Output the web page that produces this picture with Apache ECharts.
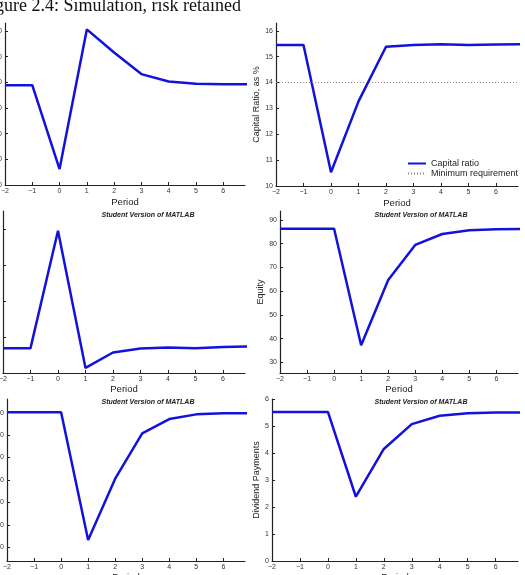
<!DOCTYPE html>
<html>
<head>
<meta charset="utf-8">
<script src="https://cdn.jsdelivr.net/npm/echarts@6/dist/echarts.min.js"></script>
<style>
  html, body { margin: 0; padding: 0; background: #fff; }
  #fig { width: 525px; height: 575px; }
</style>
</head>
<body>
<div id="fig"></div>
<script>
// periods on the x axis (last point sits past the visible 6.8 edge)
var periods = [-2, -1, 0, 1, 2, 3, 4, 5, 6, 7];
var xTicks = [-2, -1, 0, 1, 2, 3, 4, 5, 6];

// series
var topLeftValues = [38.9, 38.9, 6.2, 60.6, 51.6, 43.2, 40.3, 39.4, 39.2, 39.2];
var capitalRatio = [15.45, 15.45, 10.53, 13.27, 15.38, 15.45, 15.48, 15.45, 15.47, 15.48];
var minRequirement = [14, 14, 14, 14, 14, 14, 14, 14, 14, 14];
var midLeftValues = [0.69, 0.69, 3.95, 0.14, 0.57, 0.68, 0.71, 0.69, 0.72, 0.74];
var equity = [86.3, 86.3, 86.3, 37.2, 64.7, 79.5, 84.1, 85.7, 86.1, 86.2];
var bottomLeftValues = [160.3, 160.3, 160.3, 46.5, 101.2, 141.5, 154.3, 158.5, 159.4, 159.4];
var dividends = [5.52, 5.52, 5.52, 2.38, 4.15, 5.07, 5.38, 5.47, 5.5, 5.5];

// y tick labels
var topLeftTicks = [0, 10, 20, 30, 40, 50, 60];
var capitalTicks = [10, 11, 12, 13, 14, 15, 16];
var midLeftTicks = [0, 1, 2, 3, 4];
var equityTicks = [30, 40, 50, 60, 70, 80, 90];
var bottomLeftTicks = [40, 60, 80, 100, 120, 140, 160];
var dividendTicks = [0, 1, 2, 3, 4, 5, 6];

function pairs(xs, ys) {
  var out = [];
  for (var i = 0; i < xs.length; i++) out.push([xs[i], ys[i]]);
  return out;
}

function minus(v) {
  return String(v).replace('-', '\u2212');
}

var axisColor = '#222';
var labelColor = '#333';
var fontFam = '"Liberation Sans", Arial, sans-serif';
var blue = '#1212dc';

// panel layout: grid box, y range, ticks, y name
var panels = [
  { left: 5, top: 23, width: 240, height: 162, ymin: 0, ymax: 63.1, ticks: topLeftTicks, name: '', gap: 10, xgap: 12 },
  { left: 276, top: 23, width: 242, height: 163, ymin: 10, ymax: 16.3, ticks: capitalTicks, name: 'Capital Ratio, as %', gap: 11, xgap: 12 },
  { left: 3, top: 211, width: 242, height: 162, ymin: 0, ymax: 4.5, ticks: midLeftTicks, name: '', gap: 10, xgap: 11 },
  { left: 280, top: 211, width: 238, height: 162, ymin: 25.5, ymax: 93.8, ticks: equityTicks, name: 'Equity', gap: 15, xgap: 11 },
  { left: 7, top: 399, width: 238, height: 162, ymin: 27.8, ymax: 172.2, ticks: bottomLeftTicks, name: '', gap: 10, xgap: 11 },
  { left: 272, top: 399, width: 246, height: 162, ymin: 0, ymax: 6, ticks: dividendTicks, name: 'Dividend Payments', gap: 7, xgap: 11 }
];

var grids = [], xAxes = [], yAxes = [];
for (var i = 0; i < panels.length; i++) {
  var p = panels[i];
  grids.push({
    left: p.left, top: p.top, width: p.width, height: p.height,
    show: false, containLabel: false, outerBoundsMode: 'none'
  });
  xAxes.push({
    type: 'value', gridIndex: i, min: -2, max: 6.8,
    name: 'Period', nameLocation: 'middle', nameGap: p.xgap,
    nameTextStyle: { fontSize: 9.5, color: '#222', fontFamily: fontFam },
    axisLine: { onZero: false, lineStyle: { color: axisColor, width: 1.2 } },
    axisTick: { inside: true, length: 3, lineStyle: { color: axisColor }, customValues: xTicks },
    axisLabel: { fontSize: 7, color: labelColor, margin: 3, fontFamily: fontFam, customValues: xTicks,
      formatter: function (v) { return minus(v); } },
    splitLine: { show: false }
  });
  yAxes.push({
    type: 'value', gridIndex: i, min: p.ymin, max: p.ymax,
    name: p.name, nameLocation: 'middle', nameGap: p.gap,
    nameTextStyle: { fontSize: 9, color: '#222', fontFamily: fontFam },
    axisLine: { show: true, onZero: false, lineStyle: { color: axisColor, width: 1.2 } },
    axisTick: { show: true, inside: true, length: 3, lineStyle: { color: axisColor }, customValues: p.ticks },
    axisLabel: { fontSize: 7, color: labelColor, margin: 3, fontFamily: fontFam, customValues: p.ticks },
    splitLine: { show: false }
  });
}

var valueSets = [topLeftValues, capitalRatio, midLeftValues, equity, bottomLeftValues, dividends];
var series = [];
for (var k = 0; k < valueSets.length; k++) {
  series.push({
    type: 'line', xAxisIndex: k, yAxisIndex: k,
    name: k === 1 ? 'Capital ratio' : 'panel' + k,
    data: pairs(periods, valueSets[k]),
    symbol: 'none', silent: true, clip: true,
    lineStyle: { color: blue, width: 2.5 },
    itemStyle: { color: blue }
  });
}
// dotted minimum requirement line in the capital ratio panel
series.push({
  type: 'line', xAxisIndex: 1, yAxisIndex: 1,
  name: 'Minimum requirement',
  data: pairs(periods, minRequirement),
  symbol: 'none', silent: true, clip: true,
  lineStyle: { color: '#888', width: 1, type: [1, 2] },
  itemStyle: { color: '#888' }
});

var stamp = 'Student Version of MATLAB';
function stampText(x, y) {
  return {
    type: 'text', x: x, y: y,
    style: { text: stamp, fontSize: 7, fontWeight: 'bold', fontStyle: 'italic',
      fontFamily: fontFam, fill: '#222', align: 'center', verticalAlign: 'middle' }
  };
}

var option = {
  animation: false,
  backgroundColor: '#fff',
  grid: grids,
  xAxis: xAxes,
  yAxis: yAxes,
  legend: {
    data: ['Capital ratio', 'Minimum requirement'],
    orient: 'vertical', left: 407, top: 159, padding: 0, itemGap: 1,
    itemWidth: 18, itemHeight: 8,
    itemStyle: { opacity: 0 },
    textStyle: { fontSize: 9, color: '#222', fontFamily: fontFam }
  },
  graphic: [
    {
      type: 'text', x: 241, y: 6,
      style: { text: 'Figure 2.4: Simulation, risk retained', fontSize: 18,
        fontFamily: '"Liberation Serif", "DejaVu Serif", serif', fill: '#111',
        align: 'right', verticalAlign: 'middle' }
    },
    stampText(148, 215), stampText(421, 215),
    stampText(148, 402), stampText(421, 402)
  ],
  series: series
};

var chart = echarts.init(document.getElementById('fig'));
chart.setOption(option);
</script>
</body>
</html>
